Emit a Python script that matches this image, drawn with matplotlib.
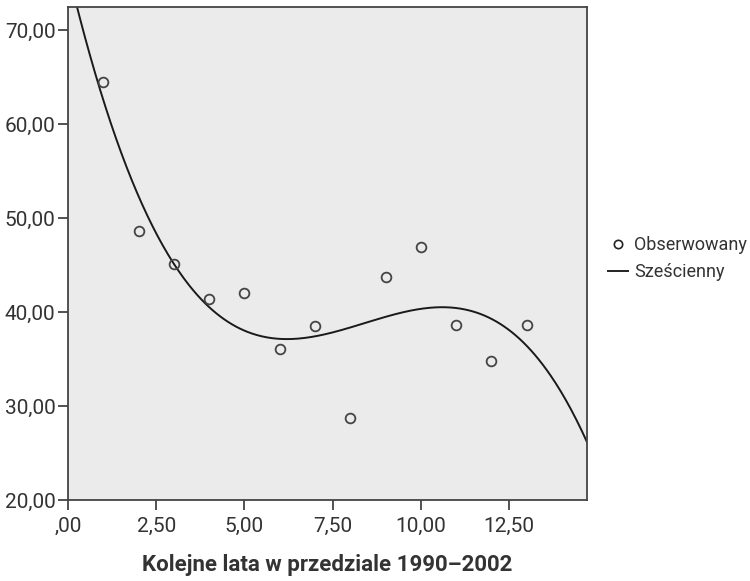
import matplotlib
matplotlib.use("Agg")
import matplotlib.pyplot as plt
import numpy as np
from matplotlib.lines import Line2D
from matplotlib.ticker import FuncFormatter

years = [1, 2, 3, 4, 5, 6, 7, 8, 9, 10, 11, 12, 13]
observed = [64.5, 48.6, 45.1, 41.4, 42.0, 36.1, 38.5, 28.7, 43.8, 46.95, 38.6, 34.8, 38.6]

x_ticks = [0, 2.5, 5, 7.5, 10, 12.5]
y_ticks = [20, 30, 40, 50, 60, 70]
x_label = "Kolejne lata w przedziale 1990–2002"
legend_labels = ["Obserwowany", "Sześcienny"]

plt.rcParams['font.family'] = ['Roboto', 'DejaVu Sans']
text_col = "#333333"
edge_col = "#444444"

fig = plt.figure(figsize=(7.5, 5.81), dpi=100)
ax = fig.add_axes([68/750, 1 - 500/581, (587 - 68)/750, (500 - 7)/581])
ax.set_facecolor("#ebebeb")

xmax = 14.71
ymin, ymax = 20, 72.5

# cubic fit to the observed points
coef = np.polyfit(years, observed, 3)
xs = np.linspace(0, xmax, 400)
ax.plot(xs, np.polyval(coef, xs), color="#1a1a1a", lw=1.4)

ax.plot(years, observed, linestyle="none", marker="o", ms=7,
        mfc="none", mec=edge_col, mew=1.3)

ax.set_xlim(0, xmax)
ax.set_ylim(ymin, ymax)
ax.set_xticks(x_ticks)
ax.set_yticks(y_ticks)

def pl_fmt(v, pos):
    s = f"{v:.2f}".replace(".", ",")
    if s.startswith("0,"):
        s = s[1:]
    return s

ax.xaxis.set_major_formatter(FuncFormatter(pl_fmt))
ax.yaxis.set_major_formatter(FuncFormatter(pl_fmt))

for sp in ax.spines.values():
    sp.set_color(edge_col)
    sp.set_linewidth(1.3)

ax.tick_params(axis="both", direction="out", length=7, width=1.3,
               color=edge_col, labelcolor=text_col, labelsize=15)
ax.tick_params(axis="y", pad=2)
ax.tick_params(axis="x", pad=5)

ax.set_xlabel(x_label, fontsize=16, fontweight="bold", color=text_col, labelpad=13)

handles = [
    Line2D([], [], linestyle="none", marker="o", ms=6, mfc="none", mec="#222222", mew=1.2),
    Line2D([], [], color="#222222", lw=1.4),
]
fig.legend(handles, legend_labels, loc="upper left", bbox_to_anchor=(601/750, 1 - 229/581),
           frameon=False, fontsize=13, labelcolor=text_col, handlelength=1.1,
           handletextpad=0.35, labelspacing=0.5, borderaxespad=0)

fig.savefig("out.png", dpi=100)
